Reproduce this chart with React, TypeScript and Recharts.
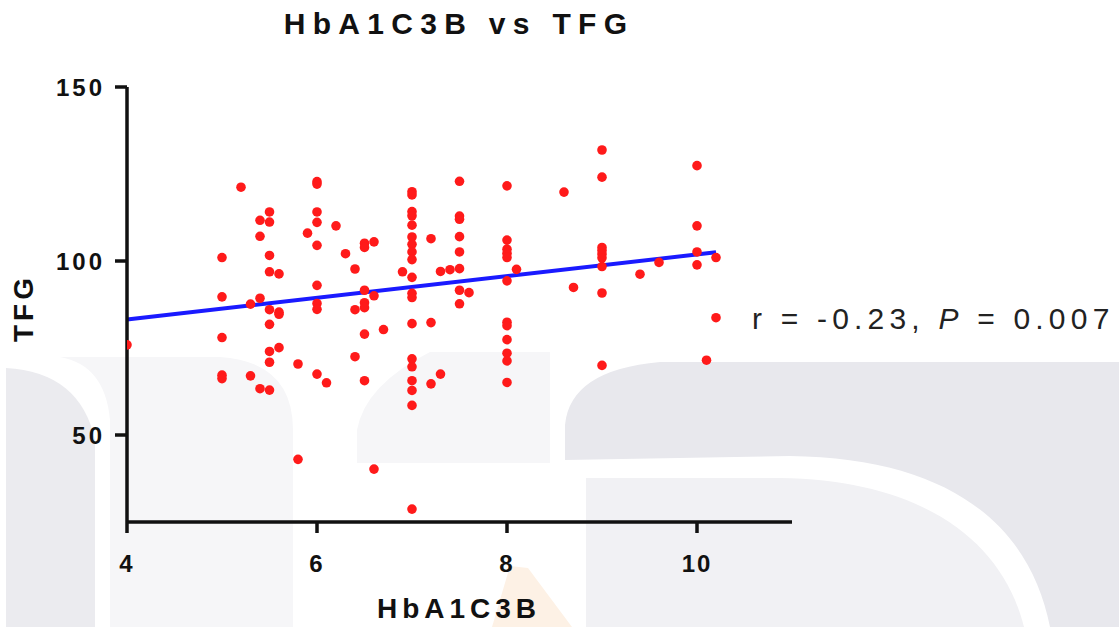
import React from 'react';
import { ScatterChart, Scatter, XAxis, YAxis, ReferenceLine } from 'recharts';

// HbA1C3B (x) values
const hba1c = [
  4.0,
  5.0, 5.0, 5.0, 5.0, 5.0,
  5.2,
  5.3, 5.3,
  5.4, 5.4, 5.4, 5.4,
  5.5, 5.5, 5.5, 5.5, 5.5, 5.5, 5.5, 5.5, 5.5,
  5.6, 5.6, 5.6, 5.6,
  5.8, 5.8,
  5.9,
  6.0, 6.0, 6.0, 6.0, 6.0, 6.0, 6.0, 6.0, 6.0,
  6.1,
  6.2,
  6.3,
  6.4, 6.4, 6.4,
  6.5, 6.5, 6.5, 6.5, 6.5, 6.5, 6.5,
  6.6, 6.6, 6.6,
  6.7,
  6.9,
  7.0, 7.0, 7.0, 7.0, 7.0, 7.0, 7.0, 7.0, 7.0, 7.0, 7.0, 7.0, 7.0, 7.0, 7.0, 7.0, 7.0, 7.0, 7.0,
  7.2, 7.2, 7.2,
  7.3, 7.3,
  7.4,
  7.5, 7.5, 7.5, 7.5, 7.5, 7.5, 7.5, 7.5,
  7.6,
  8.0, 8.0, 8.0, 8.0, 8.0, 8.0, 8.0, 8.0, 8.0, 8.0, 8.0, 8.0,
  8.1,
  8.6,
  8.7,
  9.0, 9.0, 9.0, 9.0, 9.0, 9.0, 9.0, 9.0, 9.0,
  9.4,
  9.6,
  10.0, 10.0, 10.0, 10.0,
  10.1,
  10.2, 10.2,
];

// TFG (y) values, same order
const tfg = [
  75.9,
  101, 89.7, 78, 67.2, 66.2,
  121.2,
  87.6, 67.0,
  111.7, 107.1, 89.3, 63.3,
  114.1, 111.2, 101.6, 96.9, 86.0, 81.8, 74, 70.9, 62.9,
  96.3, 85.3, 84.7, 75.1,
  70.4, 43,
  108,
  122.8, 122.1, 114.1, 111.1, 104.5, 93.0, 87.8, 86.1, 67.5,
  65,
  110.1,
  102.1,
  97.7, 86.0, 72.5,
  105.1, 103.9, 91.6, 88.0, 86.6, 79, 65.6,
  105.5, 90, 40.2,
  80.3,
  96.9,
  119.9, 119.0, 114.2, 113.0, 110.3, 106.9, 104.8, 102.6, 100.4, 95.3, 90.7, 89.5, 82, 71.9, 69.6, 65.6, 62.8, 58.5, 28.7,
  106.4, 82.3, 64.7,
  97.0, 67.5,
  97.5,
  122.9, 112.9, 112.0, 107, 102.6, 97.8, 91.6, 87.7,
  90.9,
  121.6, 106, 103.4, 102.2, 101, 94.3, 82.4, 81.4, 77.4, 73.5, 71.3, 65.1,
  97.6,
  119.8,
  92.4,
  131.9, 124.1, 103.9, 103.0, 102.0, 100.9, 98.4, 90.8, 70,
  96.2,
  99.6,
  127.4, 110.1, 102.6, 98.9,
  71.5,
  101, 83.7,
];

const xTicks = [4, 6, 8, 10];
const yTicks = [50, 100, 150];
const xDomain = [4, 11];
const yDomain = [25, 150];
const fitX = [4, 10.2];
const fitY = [83.2, 102.5];

const titleText = 'HbA1C3B vs TFG';
const xLabel = 'HbA1C3B';
const yLabel = 'TFG';

const points = hba1c.map((x, i) => ({ x, y: tfg[i] }));

const FONT = '"Liberation Sans", Arial, Helvetica, sans-serif';

const Dot = (props: any) => {
  const { cx, cy } = props;
  if (cx == null || cy == null) return null;
  return <circle cx={cx} cy={cy} r={4.8} fill="#ff1a1a" />;
};

const YTick = (props: any) => {
  const { x, y, payload } = props;
  return (
    <text
      x={x}
      y={y}
      dy="0.36em"
      textAnchor="end"
      fontFamily={FONT}
      fontSize={24}
      fontWeight={700}
      fill="#111"
      style={{ letterSpacing: '3px' }}
    >
      {payload.value}
    </text>
  );
};

const XTick = (props: any) => {
  const { x, y, payload } = props;
  return (
    <text
      x={x}
      y={y}
      dy="0.72em"
      textAnchor="middle"
      fontFamily={FONT}
      fontSize={24}
      fontWeight={700}
      fill="#111"
      style={{ letterSpacing: '2px' }}
    >
      {payload.value}
    </text>
  );
};

const Watermark = () => (
  <svg width={1119} height={627} style={{ position: 'absolute', left: 0, top: 0 }}>
    <path d="M60 357 L220 357 Q293 362 293 430 L293 627 L110 627 L110 420 Q105 365 60 357 Z" fill="#f6f6f8" />
    <path d="M6 368 Q80 372 95 440 L95 627 L6 627 Z" fill="#ebebef" />
    <path d="M357 463 L357 430 Q365 385 430 352 L550 352 L550 463 Z" fill="#f6f6f8" />
    <path d="M565 460 L565 425 Q570 370 660 362 L1119 362 L1119 627 L1050 627 C1030 525 950 458 790 456 Z" fill="#e8e8ed" />
    <path d="M586 627 L586 478 L780 478 C922 480 1002 540 1024 627 Z" fill="#f1f1f4" />
    <path d="M510 566 L528 568 L572 627 L492 627 Z" fill="#fdf1e5" />
  </svg>
);

const Overlay = () => (
  <svg width={1119} height={627} style={{ position: 'absolute', left: 0, top: 0, pointerEvents: 'none' }}>
    <text
      x={459}
      y={34}
      textAnchor="middle"
      fontFamily={FONT}
      fontSize={30}
      fontWeight={700}
      fill="#111"
      style={{ letterSpacing: '7.3px' }}
    >
      {titleText}
    </text>
    <text
      x={459}
      y={618}
      textAnchor="middle"
      fontFamily={FONT}
      fontSize={28}
      fontWeight={700}
      fill="#111"
      style={{ letterSpacing: '5px' }}
    >
      {xLabel}
    </text>
    <text
      x={33}
      y={308}
      textAnchor="middle"
      fontFamily={FONT}
      fontSize={28}
      fontWeight={700}
      fill="#111"
      transform="rotate(-90 33 308)"
      style={{ letterSpacing: '4px' }}
    >
      {yLabel}
    </text>
    <text
      x={752}
      y={329}
      fontFamily={FONT}
      fontSize={30}
      fill="#222"
      style={{ letterSpacing: '5.2px' }}
    >
      r = -0.23, <tspan fontStyle="italic">P</tspan> = 0.007
    </text>
  </svg>
);

export default function App() {
  return (
    <div style={{ position: 'absolute', left: 0, top: 0, width: 1119, height: 627, background: '#fff', overflow: 'hidden' }}>
      <Watermark />
      <div style={{ position: 'absolute', left: 0, top: 0 }}>
        <ScatterChart
          width={1119}
          height={627}
          margin={{ top: 87, right: 327, bottom: 45, left: 67 }}
        >
          <XAxis
            type="number"
            dataKey="x"
            domain={xDomain}
            ticks={xTicks}
            height={60}
            axisLine={{ stroke: '#111', strokeWidth: 3.5 }}
            tickLine={{ stroke: '#111', strokeWidth: 3.5 }}
            tickSize={11}
            tickMargin={22}
            tick={<XTick />}
            interval={0}
            allowDataOverflow
          />
          <YAxis
            type="number"
            dataKey="y"
            domain={yDomain}
            ticks={yTicks}
            width={60}
            axisLine={{ stroke: '#111', strokeWidth: 3.5 }}
            tickLine={{ stroke: '#111', strokeWidth: 3.5 }}
            tickSize={12}
            tickMargin={10}
            tick={<YTick />}
            interval={0}
            allowDataOverflow
          />
          <ReferenceLine
            segment={[
              { x: fitX[0], y: fitY[0] },
              { x: fitX[1], y: fitY[1] },
            ]}
            stroke="#1a1aff"
            strokeWidth={4}
          />
          <Scatter data={points} shape={<Dot />} isAnimationActive={false} />
        </ScatterChart>
      </div>
      <Overlay />
    </div>
  );
}
